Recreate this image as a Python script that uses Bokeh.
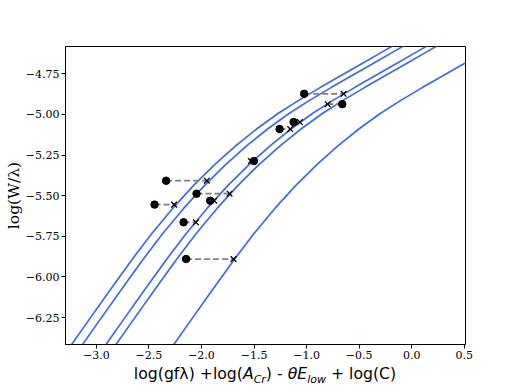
from bokeh.plotting import figure
from bokeh.models import Range1d, FixedTicker, Div
from bokeh.layouts import column
from bokeh.embed import file_html
from bokeh.resources import INLINE

# Curve of growth shape (x, log(W/lambda))
cog_x = [-2.3, -2.1, -1.9, -1.7, -1.5, -1.3, -1.1, -0.9, -0.7, -0.5,
         -0.3, -0.1, 0.1, 0.3, 0.5, 0.7, 0.9]
cog_y = [-6.450, -6.266, -6.083, -5.903, -5.733, -5.577, -5.435, -5.307,
         -5.192, -5.088, -4.994, -4.912, -4.835, -4.760, -4.686, -4.612,
         -4.538]
# horizontal offsets of the five curves relative to the read curve
curve_shifts = [-0.972, -0.868, -0.645, -0.55, 0.0]

# observed lines (dots) and their model positions (crosses)
obs_x = [-1.023, -0.661, -1.124, -1.257, -1.501, -2.336, -2.047, -2.446,
         -1.917, -2.170, -2.146]
model_x = [-0.648, -0.800, -1.064, -1.156, -1.530, -1.949, -1.733, -2.260,
           -1.879, -2.053, -1.695]
line_y = [-4.873, -4.937, -5.047, -5.090, -5.287, -5.408, -5.488, -5.555,
          -5.531, -5.664, -5.890]

x_ticks = [-3.0, -2.5, -2.0, -1.5, -1.0, -0.5, 0.0, 0.5]
x_tick_labels = ["\u22123.0", "\u22122.5", "\u22122.0", "\u22121.5", "\u22121.0",
                 "\u22120.5", "0.0", "0.5"]
y_ticks = [-6.25, -6.0, -5.75, -5.5, -5.25, -5.0, -4.75]
y_tick_labels = ["\u22126.25", "\u22126.00", "\u22125.75", "\u22125.50",
                 "\u22125.25", "\u22125.00", "\u22124.75"]

SERIF = "DejaVu Serif"

p = figure(width=518, height=364,
           x_range=Range1d(-3.293, 0.511), y_range=Range1d(-6.416, -4.582),
           output_backend="svg", toolbar_location=None,
           min_border_left=65, min_border_right=53,
           min_border_top=46, min_border_bottom=20)
p.xgrid.visible = False
p.ygrid.visible = False
p.outline_line_color = "black"
p.outline_line_width = 1
p.outline_line_alpha = 1
p.background_fill_color = "white"
p.border_fill_color = "white"

for ax in (p.xaxis, p.yaxis):
    ax.axis_line_color = "black"
    ax.axis_line_width = 1
    ax.major_tick_out = 4
    ax.major_tick_in = 0
    ax.major_tick_line_color = "black"
    ax.minor_tick_line_color = None
    ax.major_label_text_font = SERIF
    ax.major_label_text_font_size = "11px"
    ax.major_label_text_color = "black"
    ax.major_label_standoff = 2

p.xaxis.ticker = FixedTicker(ticks=x_ticks)
p.xaxis.major_label_overrides = dict(zip(x_ticks, x_tick_labels))
p.yaxis.ticker = FixedTicker(ticks=y_ticks)
p.yaxis.major_label_overrides = dict(zip(y_ticks, y_tick_labels))

p.yaxis.axis_label = "log(W/\u03bb)"
p.yaxis.axis_label_text_font = SERIF
p.yaxis.axis_label_text_font_size = "15.5px"
p.yaxis.axis_label_text_font_style = "normal"
p.yaxis.axis_label_text_color = "black"
p.yaxis.axis_label_standoff = 0

for s in curve_shifts:
    p.line([x + s for x in cog_x], cog_y, line_color="#4169e1", line_width=1.7)

p.segment(x0=obs_x, y0=line_y, x1=model_x, y1=line_y,
          line_color="gray", line_dash="6 3", line_width=1.7)
p.scatter(model_x, line_y, marker="x", size=8, line_color="black", line_width=1.3)
p.scatter(obs_x, line_y, marker="circle", size=7.5,
          fill_color="black", line_color="black")

# x-axis label with italics and subscripts, as real HTML text below the plot
sub = '<span style="font-size:70%;vertical-align:-0.32em;font-style:italic">{}</span>'
xlabel_html = (
    '<div style="width:400px;margin-left:65px;text-align:center;'
    'font-family:\'DejaVu Sans\';font-size:15.7px;line-height:18px;'
    'color:black;white-space:nowrap;padding-top:1px">'
    'log(gf\u03bb) +log(<i>A</i>' + sub.format("Cr") + ') - <i>\u03b8E</i>'
    + sub.format("low") + ' + log(C)</div>'
)
xlabel = Div(text=xlabel_html, width=518, height=24,
             styles={"margin": "0", "padding": "0", "overflow": "visible"})

layout = column(p, xlabel, spacing=0)

open("out.html", "w").write(file_html(layout, INLINE))
